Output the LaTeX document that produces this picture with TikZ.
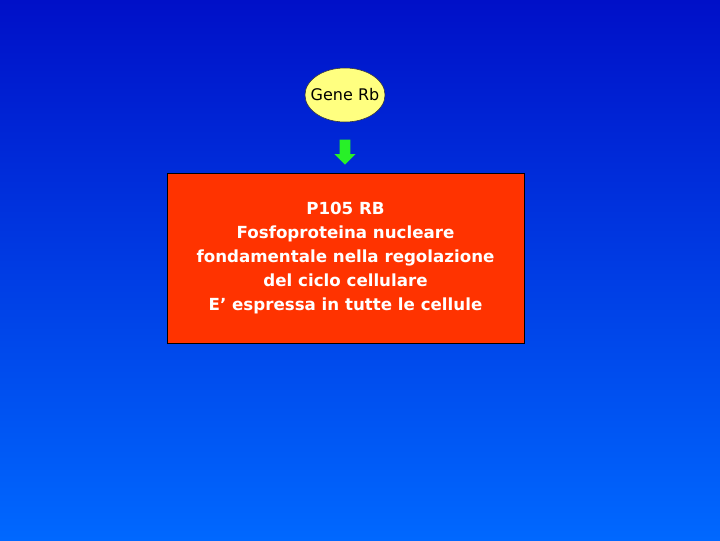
\documentclass[tikz,border=0pt]{standalone}
\usepackage{fontspec}
\setmainfont{DejaVu Sans}
\usepackage{tikz}
\usetikzlibrary{shapes,shapes.arrows,positioning}
\definecolor{bgtop}{RGB}{0,16,200}
\definecolor{bgbottom}{RGB}{0,104,255}
\definecolor{genefill}{RGB}{255,255,128}
\definecolor{boxfill}{RGB}{255,51,0}
\definecolor{arrowgreen}{RGB}{40,240,40}
\tikzstyle{gene}=[ellipse,draw=black!80,fill=genefill,minimum width=60pt,minimum height=40.5pt,inner ysep=0pt,inner xsep=-4.5pt,font=\fontsize{12}{14}\selectfont]
\tikzstyle{infobox}=[rectangle,draw=black,fill=boxfill,minimum width=267.75pt,minimum height=127.5pt,align=center,text=white,font=\fontsize{12.5}{18}\selectfont\bfseries]
\tikzstyle{blockarrow}=[single arrow,fill=arrowgreen,draw=none,inner sep=3.75pt,single arrow head extend=4pt,single arrow tip angle=90,minimum height=18.75pt,shape border rotate=270]

\begin{document}
\begin{tikzpicture}[x=0.75pt,y=-0.75pt]

% Background
\shade[top color=bgtop,bottom color=bgbottom] (0,0) rectangle (720,540);
\useasboundingbox (0,0) rectangle (720,540);

% Gene and protein
\node[gene] (rb) at (345,95) {Gene Rb};
\node[blockarrow] (down) at (345,149.5) {};
\node[infobox] (p105) at (345.5,258) {P105 RB\\Fosfoproteina nucleare\\fondamentale nella regolazione\\del ciclo cellulare\\E' espressa in tutte le cellule};

\end{tikzpicture}
\end{document}
